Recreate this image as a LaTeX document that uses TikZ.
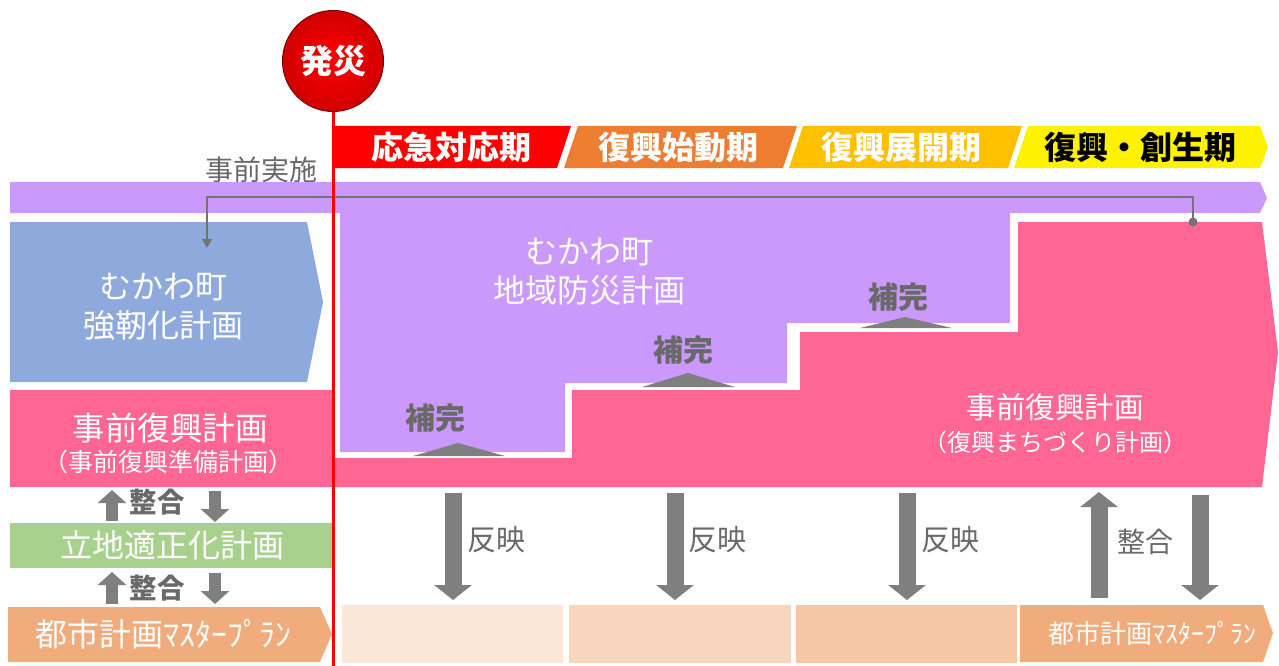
\documentclass[tikz,border=0pt]{standalone}
\usepackage{fontspec}
\setmainfont{Noto Sans CJK JP}
\usepackage{tikz}
\usetikzlibrary{arrows.meta,shapes.geometric}
\usepackage{xcolor}
\definecolor{bandpurple}{RGB}{203,152,252}
\definecolor{planpink}{RGB}{255,102,148}
\definecolor{planblue}{RGB}{142,169,219}
\definecolor{plangreen}{RGB}{169,209,142}
\definecolor{planorange}{RGB}{241,172,126}
\definecolor{peachA}{RGB}{251,230,215}
\definecolor{peachB}{RGB}{248,214,190}
\definecolor{peachC}{RGB}{245,199,166}
\definecolor{phaseorange}{RGB}{237,125,49}
\definecolor{phaseamber}{RGB}{255,192,0}
\definecolor{arrowgray}{RGB}{127,127,127}
\definecolor{textgray}{RGB}{105,105,105}
\definecolor{linkgray}{RGB}{115,115,115}

\begin{document}
\begin{tikzpicture}[x=1pt,y=-1pt]
\tikzstyle{phase} = [text=white, inner sep=0pt, font=\fontsize{32}{36}\selectfont\bfseries]
\tikzstyle{plan} = [text=white, inner sep=0pt, align=center, font=\fontsize{32}{39}\selectfont]
\tikzstyle{note} = [text=textgray, inner sep=0pt, font=\fontsize{29}{32}\selectfont]
\tikzstyle{bigarrow} = [draw=arrowgray, line width=17pt, -{Triangle[length=15pt,width=37pt]}]
\tikzstyle{smallarrow} = [draw=arrowgray, line width=12pt, -{Triangle[length=13pt,width=28pt]}]
\tikzstyle{link} = [draw=linkgray, line width=2.5pt, -{Triangle[length=9pt,width=10pt]}]

\useasboundingbox (0,0) rectangle (1279,666);

% phases
\fill[red] (333,126) -- (571,126) -- (557,168) -- (333,168) -- cycle;
\fill[phaseorange] (578,126) -- (797,126) -- (783,168) -- (564,168) -- cycle;
\fill[phaseamber] (803,126) -- (1022,126) -- (1008,168) -- (789,168) -- cycle;
\fill[yellow] (1028,126) -- (1260,126) -- (1268,147) -- (1260,168) -- (1014,168) -- cycle;
\node[phase] (oukyu) at (451,147) {応急対応期};
\node[phase] (shido) at (678,147) {復興始動期};
\node[phase] (tenkai) at (901,147) {復興展開期};
\node[phase, text=black] (sousei) at (1140,147) {復興・創生期};
\node[note, anchor=east, font=\fontsize{28}{30}\selectfont] (jizen) at (318,170) {事前実施};

% purple band and steps
\fill[bandpurple] (10,182) -- (1260,182) -- (1267,198) -- (1260,213) -- (10,213) -- cycle;
\fill[bandpurple] (340,205) -- (1010,205) -- (1010,323) -- (787,323) -- (787,383)
  -- (565,383) -- (565,452) -- (340,452) -- cycle;
\node[plan] (chiiki) at (589,272) {むかわ町\\地域防災計画};

% blue
\fill[planblue] (10,222) -- (307,222) -- (323,302) -- (307,382) -- (10,382) -- cycle;
\node[plan] (kyojin) at (163,307) {むかわ町\\強靭化計画};

% pink
\fill[planpink] (10,390) rectangle (333,487);
\fill[planpink] (333,458) -- (572,458) -- (572,390) -- (800,390) -- (800,332) -- (1018,332)
  -- (1018,222) -- (1262,222) -- (1278,352) -- (1262,487) -- (333,487) -- cycle;
\node[plan, font=\fontsize{32.5}{36}\selectfont] (fukkoL) at (170,428) {事前復興計画};
\node[plan, font=\fontsize{25}{28}\selectfont] (junbi) at (168,462) {（事前復興準備計画）};
\node[plan, font=\fontsize{29.5}{32}\selectfont] (fukkoR) at (1055,407) {事前復興計画};
\node[plan, font=\fontsize{24}{28}\selectfont] (machi) at (1055,442) {（復興まちづくり計画）};

% hokan
\fill[arrowgray] (413,456) -- (458,443) -- (505,456) -- cycle;
\fill[arrowgray] (642,387) -- (688,373) -- (735,387) -- cycle;
\fill[arrowgray] (860,328) -- (905,317) -- (952,328) -- cycle;
\node[note, font=\fontsize{30}{32}\selectfont\bfseries] (hokan1) at (435,418) {補完};
\node[note, font=\fontsize{30}{32}\selectfont\bfseries] (hokan2) at (683,350) {補完};
\node[note, font=\fontsize{30}{32}\selectfont\bfseries] (hokan3) at (898,297) {補完};

% link
\coordinate (linkstart) at (1193,222);
\coordinate (linkend) at (207,248);
\draw[link] (linkstart) -- (1193,197) -| (linkend);
\fill[linkgray] (linkstart) circle (4.5);

% left column
\fill[plangreen] (10,523) rectangle (332,568);
\node[plan] (ritchi) at (172,545) {立地適正化計画};
\fill[planorange] (8,607) -- (320,607) -- (332,634) -- (320,662) -- (8,662) -- cycle;
\node[plan] (toshiL) at (163,634) {都市計画ﾏｽﾀｰﾌﾟﾗﾝ};
\node[note, font=\fontsize{27.5}{30}\selectfont\bfseries] (seigo1) at (157,502) {整合};
\node[note, font=\fontsize{27.5}{30}\selectfont\bfseries] (seigo2) at (157,588) {整合};
\coordinate (up1) at (112,490);
\coordinate (dn1) at (215,491);
\coordinate (up2) at (112,572);
\coordinate (dn2) at (215,573);
\draw[smallarrow] (112,521) -- (up1);
\draw[smallarrow] (dn1) -- ++(0,31);
\draw[smallarrow] (112,604) -- (up2);
\draw[smallarrow] (dn2) -- ++(0,31);

% bottom row
\fill[peachA] (342,605) rectangle (563,663);
\fill[peachB] (569,605) rectangle (791,663);
\fill[peachC] (796,605) rectangle (1017,663);
\fill[planorange] (1020,605) -- (1263,605) -- (1273,633) -- (1263,662) -- (1020,662) -- cycle;
\node[plan, font=\fontsize{26}{28}\selectfont] (toshiR) at (1152,634) {都市計画ﾏｽﾀｰﾌﾟﾗﾝ};
\coordinate (han1) at (453,493);
\coordinate (han2) at (675,493);
\coordinate (han3) at (907,493);
\coordinate (seiup) at (1099,492);
\coordinate (seidn) at (1200,495);
\draw[bigarrow] (han1) -- ++(0,107);
\draw[bigarrow] (han2) -- ++(0,107);
\draw[bigarrow] (han3) -- ++(0,107);
\draw[bigarrow] (1099,598) -- (seiup);
\draw[bigarrow] (seidn) -- ++(0,105);
\node[note] (hanei1) at (496,540) {反映};
\node[note] (hanei2) at (717,540) {反映};
\node[note] (hanei3) at (950,540) {反映};
\node[note, font=\fontsize{28}{30}\selectfont] (seigo3) at (1145,542) {整合};

% hassai
\node[circle, minimum size=101pt, inner color=red, outer color=red!82!black,
  draw=red!50!black, line width=1pt, text=white, font=\fontsize{33}{36}\selectfont\bfseries] (hassai) at (333,61) {発災};
\coordinate (base) at (333,666);
\draw[red, line width=3pt] (hassai.south) -- (base);
\end{tikzpicture}
\end{document}
